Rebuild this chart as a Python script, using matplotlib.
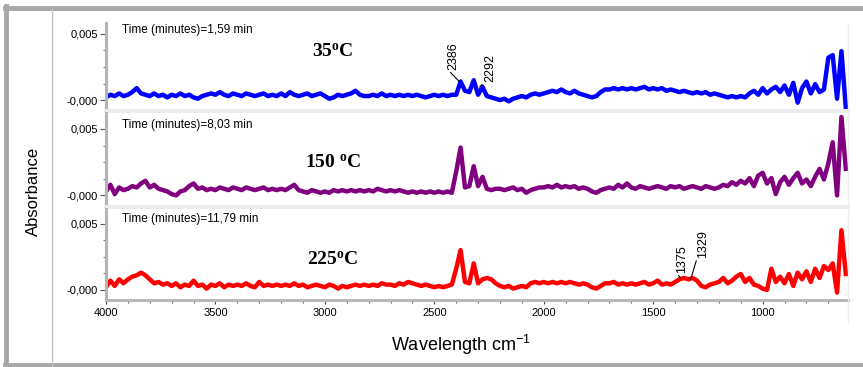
import matplotlib.pyplot as plt
import numpy as np
from matplotlib.lines import Line2D
from matplotlib.ticker import MultipleLocator, FixedLocator

# ----- Matplotlib settings -----
plt.rcParams["font.family"] = "Liberation Sans"
plt.rcParams["mathtext.default"] = "regular"

W_PX, H_PX = 863, 367

# wavenumber grid shared by all spectra (cm-1)
wavenumber = np.arange(4000, 619, -20)

# absorbance in units of 1e-3
abs_35 = [
    0.2, 0.4, 0.3, 0.5, 0.3,
    0.4, 0.6, 0.9, 0.5, 0.4,
    0.3, 0.5, 0.3, 0.4, 0.2,
    0.4, 0.3, 0.5, 0.3, 0.4,
    0.2, 0.1, 0.3, 0.4, 0.5,
    0.4, 0.6, 0.4, 0.3, 0.5,
    0.4, 0.3, 0.5, 0.4, 0.3,
    0.4, 0.5, 0.3, 0.4, 0.3,
    0.5, 0.3, 0.6, 0.4, 0.3,
    0.4, 0.5, 0.3, 0.4, 0.5,
    0.3, 0.1, 0.2, 0.4, 0.3,
    0.4, 0.5, 0.7, 0.4, 0.3,
    0.3, 0.4, 0.3, 0.5, 0.3,
    0.4, 0.3, 0.4, 0.3, 0.4,
    0.3, 0.4, 0.3, 0.2, 0.3,
    0.4, 0.3, 0.4, 0.3, 0.4,
    0.4, 1.4, 0.7, 0.6, 1.5,
    0.4, 1.0, 0.3, 0.2, 0.1,
    0.0, 0.1, -0.1, 0.1, 0.2,
    0.3, 0.2, 0.4, 0.5, 0.4,
    0.5, 0.6, 0.7, 0.6, 0.8,
    0.6, 0.5, 0.7, 0.5, 0.4,
    0.3, 0.2, 0.3, 0.6, 0.8,
    0.8, 0.9, 0.8, 0.9, 0.8,
    0.9, 0.8, 0.9, 1.0, 0.8,
    0.9, 0.8, 0.9, 0.7, 0.8,
    0.7, 0.6, 0.7, 0.6, 0.5,
    0.6, 0.5, 0.6, 0.4, 0.5,
    0.4, 0.3, 0.2, 0.3, 0.2,
    0.3, 0.2, 0.5, 0.7, 0.4,
    0.9, 0.5, 0.8, 1.0, 0.6,
    1.1, 0.4, 1.3, -0.2, 0.9,
    1.4, 0.5, 1.2, 0.6, 0.8,
    3.2, 3.4, 0.1, 3.7, -0.6,
]

abs_150 = [
    0.3, 0.8, 0.1, 0.6, 0.4,
    0.5, 0.7, 0.6, 0.9, 1.1,
    0.6, 0.8, 0.5, 0.4, 0.3,
    0.1, 0.0, 0.3, 0.4, 0.7,
    0.9, 0.5, 0.6, 0.4, 0.5,
    0.4, 0.6, 0.5, 0.4, 0.6,
    0.5, 0.4, 0.6, 0.5, 0.4,
    0.5, 0.6, 0.4, 0.5, 0.4,
    0.5, 0.4, 0.6, 0.8, 0.4,
    0.3, 0.2, 0.4, 0.3, 0.2,
    0.3, 0.2, 0.4, 0.3, 0.4,
    0.3, 0.4, 0.3, 0.4, 0.3,
    0.4, 0.3, 0.5, 0.4, 0.3,
    0.4, 0.3, 0.4, 0.3, 0.2,
    0.3, 0.2, 0.3, 0.2, 0.3,
    0.2, 0.3, 0.2, 0.3, 0.2,
    1.8, 3.6, 0.6, 0.7, 2.2,
    0.7, 1.4, 0.5, 0.4, 0.5,
    0.5, 0.4, 0.5, 0.6, 0.4,
    0.5, 0.2, 0.4, 0.5, 0.6,
    0.6, 0.7, 0.6, 0.8, 0.6,
    0.7, 0.6, 0.7, 0.5, 0.6,
    0.5, 0.3, 0.2, 0.4, 0.5,
    0.6, 0.5, 0.8, 0.6, 0.9,
    0.6, 0.5, 0.7, 0.6, 0.5,
    0.6, 0.7, 0.6, 0.5, 0.7,
    0.6, 0.7, 0.5, 0.6, 0.7,
    0.6, 0.5, 0.7, 0.6, 0.5,
    0.6, 0.8, 0.7, 1.0, 0.8,
    1.1, 0.9, 1.3, 0.7, 1.5,
    1.7, 0.9, 1.3, 0.1, 1.0,
    1.4, 0.8, 1.3, 1.7, 0.9,
    1.2, 0.7, 1.4, 2.0, 1.2,
    2.4, 4.0, 0.0, 5.9, 2.0,
]

abs_225 = [
    0.2, 0.7, 0.3, 0.8, 0.5,
    0.8, 1.0, 1.1, 1.3, 1.1,
    0.8, 0.5, 0.6, 0.4, 0.5,
    0.3, 0.5, 0.2, 0.4, 0.3,
    0.7, 0.3, 0.4, 0.1, 0.4,
    0.3, 0.5, 0.2, 0.4, 0.3,
    0.4, 0.3, 0.5, 0.3, 0.2,
    0.6, 0.3, 0.4, 0.3, 0.4,
    0.3, 0.4, 0.3, 0.5, 0.3,
    0.4, 0.2, 0.3, 0.4, 0.3,
    0.2, 0.4, 0.3, 0.1, 0.3,
    0.2, 0.3, 0.4, 0.3, 0.4,
    0.3, 0.4, 0.3, 0.5, 0.4,
    0.4, 0.3, 0.5, 0.4, 0.6,
    0.5, 0.4, 0.3, 0.4, 0.3,
    0.2, 0.3, 0.2, 0.3, 0.4,
    1.6, 3.0, 0.6, 0.5, 2.0,
    0.5, 0.8, 0.9, 0.8, 0.5,
    0.3, 0.2, 0.3, 0.1, 0.2,
    0.3, 0.2, 0.5, 0.6, 0.5,
    0.6, 0.5, 0.6, 0.5, 0.6,
    0.5, 0.6, 0.5, 0.4, 0.5,
    0.4, 0.2, 0.1, 0.3, 0.5,
    0.5, 0.6, 0.4, 0.5, 0.4,
    0.5, 0.4, 0.5, 0.6, 0.4,
    0.5, 0.7, 0.4, 0.5, 0.4,
    0.6, 0.8, 0.9, 0.8, 0.9,
    0.7, 0.3, 0.2, 0.4, 0.5,
    0.6, 0.9, 0.5, 0.7, 1.0,
    1.2, 0.6, 0.9, 0.4, 0.3,
    0.1, 0.0, 1.6, 0.6, 1.0,
    0.5, 1.2, 0.3, 1.3, 0.8,
    1.4, 0.6, 1.6, 0.9, 1.8,
    1.5, 2.0, -0.2, 4.5, 1.2,
]

spectra = [abs_35, abs_150, abs_225]
colors = ["#0000ff", "#800080", "#ff0000"]
times = ["Time (minutes)=1,59 min", "Time (minutes)=8,03 min", "Time (minutes)=11,79 min"]
temps = [r"35$^{o}$C", r"150 $^{o}$C", r"225$^{o}$C"]

# labelled peaks: (wavenumber, peak height, text x, text y), heights in 1e-3
peaks = [
    [(2386, 1.4, 2411, 2.3), (2292, 1.0, 2242, 1.4)],
    [],
    [(1375, 0.9, 1368, 1.3), (1329, 0.8, 1272, 2.4)],
]

# panel boxes in pixels (top, bottom) and y limits
panel_px = [(23, 111), (113, 207), (209, 300)]
ylims = [(-0.00083, 0.00583), (-0.00087, 0.0062), (-0.00076, 0.0061)]
time_y = [0.92, 0.87, 0.89]
temp_y = [0.67, 0.47, 0.44]

X_LEFT, X_RIGHT = 106, 848


def px_rect(top, bottom):
    return [X_LEFT / W_PX, 1 - bottom / H_PX, (X_RIGHT - X_LEFT) / W_PX, (bottom - top) / H_PX]


fig = plt.figure(figsize=(W_PX / 100, H_PX / 100), dpi=100)

axes = []
for i, (top, bottom) in enumerate(panel_px):
    ax = fig.add_axes(px_rect(top, bottom))
    ax.plot(wavenumber, np.array(spectra[i]) * 1e-3, color=colors[i], lw=3.2)
    ax.set_xlim(4000, 610)
    ax.set_ylim(*ylims[i])

    ax.yaxis.set_major_locator(FixedLocator([0.0, 0.005]))
    ax.set_yticklabels(["-0,000", "0,005"])
    ax.yaxis.set_minor_locator(MultipleLocator(0.00125))
    ax.tick_params(axis="y", which="major", length=4, width=0.8, color="#555555", labelsize=8, pad=2)
    ax.tick_params(axis="y", which="minor", length=2, width=0.8, color="#777777")

    ax.spines["top"].set_visible(False)
    ax.spines["right"].set_visible(False)
    ax.spines["left"].set_color("#b4b4b4")
    ax.spines["left"].set_linewidth(2.2)

    if i < 2:
        ax.spines["bottom"].set_color("#ececec")
        ax.spines["bottom"].set_linewidth(3)
        ax.set_xticks([])
    else:
        ax.spines["bottom"].set_color("#b8b8b8")
        ax.spines["bottom"].set_linewidth(2.2)
        ax.xaxis.set_major_locator(MultipleLocator(500))
        ax.xaxis.set_minor_locator(MultipleLocator(100))
        ax.tick_params(axis="x", which="major", length=3, width=0.8, color="#444444", labelsize=8, pad=3)
        ax.tick_params(axis="x", which="minor", length=2, width=0.8, color="#666666")

    ax.text(0.022, time_y[i], times[i], transform=ax.transAxes, fontsize=8.5, va="center", ha="left")
    ax.text(0.306, temp_y[i], temps[i], transform=ax.transAxes, fontsize=14, fontweight="bold",
            family="Liberation Serif", va="center", ha="center")

    for wn, h, tx, ty in peaks[i]:
        ax.annotate(str(wn), xy=(wn, h * 1e-3), xytext=(tx, ty * 1e-3),
                    rotation=90, ha="center", va="bottom", fontsize=9,
                    arrowprops=dict(arrowstyle="-", color="black", lw=0.8,
                                    shrinkA=0, shrinkB=0, relpos=(0, 0)))
    axes.append(ax)

fig.text(33 / W_PX, 1 - 191 / H_PX, "Absorbance", rotation=90, fontsize=12, ha="center", va="center")
fig.text(461 / W_PX, 1 - 345 / H_PX, "Wavelength cm$^{-1}$", fontsize=13, ha="center", va="center")

# frame around the figure
fig.add_artist(Line2D([5 / W_PX, 1], [1 - 7.5 / H_PX] * 2, color="#a8a8a8", lw=3.5))
fig.add_artist(Line2D([6 / W_PX] * 2, [0, 1 - 6 / H_PX], color="#a8a8a8", lw=3.5))
fig.add_artist(Line2D([5 / W_PX, 1], [2.5 / H_PX] * 2, color="#a8a8a8", lw=3.5))
fig.add_artist(Line2D([52 / W_PX] * 2, [0, 1 - 9 / H_PX], color="#c4c4c4", lw=1))
fig.add_artist(Line2D([848 / W_PX] * 2, [1 - 323 / H_PX, 1 - 23 / H_PX], color="#eeeeee", lw=1))

plt.savefig("out.png", dpi=100)
